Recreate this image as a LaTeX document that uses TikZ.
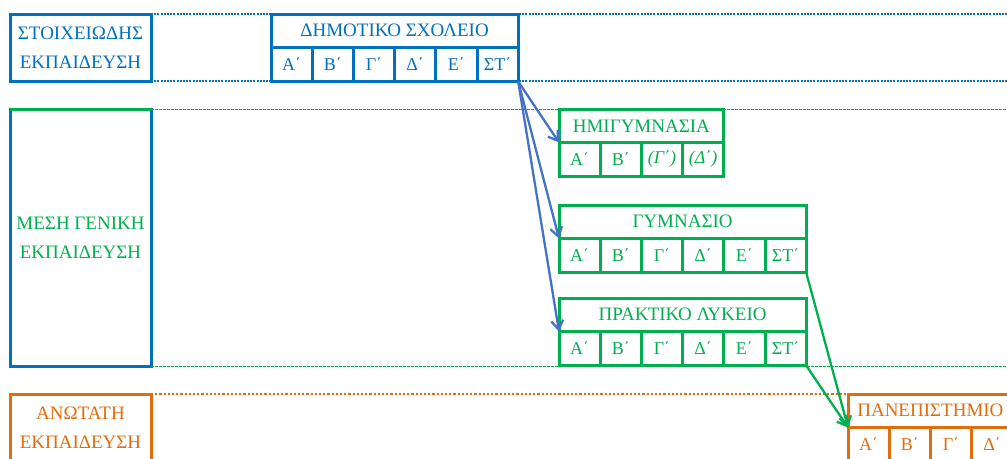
\documentclass[tikz,border=0pt]{standalone}
\usepackage{fontspec}
\setmainfont{Liberation Serif}
\usepackage{tikz}
\usetikzlibrary{positioning}
\usetikzlibrary{arrows.meta}
\definecolor{stoixblue}{HTML}{0070C0}
\definecolor{mesgreen}{HTML}{00B050}
\definecolor{anorange}{HTML}{E36C0A}
\definecolor{arrblue}{HTML}{4472C4}
\tikzset{
  hue/.style={draw=#1, text=#1},
  box/.style={draw, line width=3pt, fill=white, outer sep=0pt, inner sep=0pt},
  level/.style={box, minimum width=141pt, align=center, font=\fontsize{19}{29}\selectfont},
  school/.style={box, minimum height=33.5pt, anchor=north west, font=\fontsize{19}{20}\selectfont},
  cell/.style={box, minimum width=41.2pt, minimum height=34pt, anchor=north west, font=\fontsize{18}{18}\selectfont},
  blueband/.style={stoixblue, line width=2pt, dash pattern=on 2pt off 1.2pt},
  greenband/.style={mesgreen, line width=1pt, dash pattern=on 3pt off 1pt},
  orangeband/.style={anorange, line width=2pt, dash pattern=on 2.2pt off 2pt},
  barrow/.style={arrblue, line width=2.3pt, -{Straight Barb[length=9pt,width=12pt]}},
  garrow/.style={mesgreen, line width=2.3pt, -{Straight Barb[length=9pt,width=12pt]}}
}
\begin{document}
\begin{tikzpicture}[x=1pt, y=-1pt]
  \clip (0,0) rectangle (1007,458);
  % levels of education
  \node[level, hue=stoixblue, minimum height=67pt] (stoix) at (80.5,47.5) {ΣΤΟΙΧΕΙΩΔΗΣ\\ΕΚΠΑΙΔΕΥΣΗ};
  \node[level, draw=stoixblue, text=mesgreen, minimum height=257pt] (mesi) at (80.5,237.5) {ΜΕΣΗ ΓΕΝΙΚΗ\\ΕΚΠΑΙΔΕΥΣΗ};
  \draw[mesgreen, line width=3pt] (mesi.north west) -- (mesi.north east);
  \node[level, hue=anorange, minimum height=68pt] (anot) at (80.5,428) {ΑΝΩΤΑΤΗ\\ΕΚΠΑΙΔΕΥΣΗ};
  \draw[blueband] (stoix.north east) -- ++(860,0);
  \draw[blueband] (stoix.south east) -- ++(860,0);
  \draw[greenband] (mesi.north east) -- ++(860,0);
  \draw[greenband] (mesi.south east) -- ++(860,0);
  \draw[orangeband] (anot.north east) -- ++(700,0);
  % schools
  \node[school, hue=stoixblue, minimum width=247.2pt] (dim) at (271,14) {ΔΗΜΟΤΙΚΟ ΣΧΟΛΕΙΟ};
  \foreach \t [count=\i, evaluate=\i as \dx using 41.2*(\i-1)] in {Α΄,Β΄,Γ΄,Δ΄,Ε΄,ΣΤ΄}
    \node[cell, hue=stoixblue] (dim\i) at ([xshift=\dx pt]dim.south west) {\t};
  \node[school, hue=mesgreen, minimum width=164.8pt] (hmi) at (559,109) {ΗΜΙΓΥΜΝΑΣΙΑ};
  \foreach \t [count=\i, evaluate=\i as \dx using 41.2*(\i-1)] in {Α΄,Β΄,\textit{(Γ΄)},\textit{(Δ΄)}}
    \node[cell, hue=mesgreen] (hmi\i) at ([xshift=\dx pt]hmi.south west) {\t};
  \node[school, hue=mesgreen, minimum width=247.2pt] (gym) at (559,205) {ΓΥΜΝΑΣΙΟ};
  \foreach \t [count=\i, evaluate=\i as \dx using 41.2*(\i-1)] in {Α΄,Β΄,Γ΄,Δ΄,Ε΄,ΣΤ΄}
    \node[cell, hue=mesgreen] (gym\i) at ([xshift=\dx pt]gym.south west) {\t};
  \node[school, hue=mesgreen, minimum width=247.2pt] (lyk) at (559,298) {ΠΡΑΚΤΙΚΟ ΛΥΚΕΙΟ};
  \foreach \t [count=\i, evaluate=\i as \dx using 41.2*(\i-1)] in {Α΄,Β΄,Γ΄,Δ΄,Ε΄,ΣΤ΄}
    \node[cell, hue=mesgreen] (lyk\i) at ([xshift=\dx pt]lyk.south west) {\t};
  \node[school, hue=anorange, minimum width=164.8pt] (pan) at (848,394) {ΠΑΝΕΠΙΣΤΗΜΙΟ};
  \foreach \t [count=\i, evaluate=\i as \dx using 41.2*(\i-1)] in {Α΄,Β΄,Γ΄,Δ΄}
    \node[cell, hue=anorange] (pan\i) at ([xshift=\dx pt]pan.south west) {\t};
  % transitions
  \draw[barrow] (dim6.south east) -- (hmi.south west);
  \draw[barrow] (dim6.south east) -- (gym.south west);
  \draw[barrow] (dim6.south east) -- (lyk.south west);
  \draw[garrow] (gym6.south east) -- (pan.south west);
  \draw[garrow] (lyk6.south east) -- (pan.south west);
\end{tikzpicture}
\end{document}
